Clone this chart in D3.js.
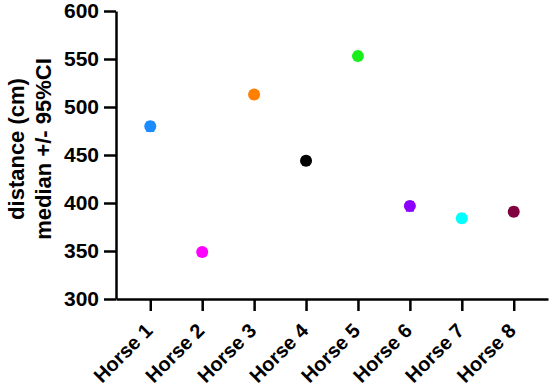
<!DOCTYPE html>
<html>
<head>
<meta charset="utf-8">
<script src="https://cdn.jsdelivr.net/npm/d3@7"></script>
<style>
  body { margin: 0; background: #fff; }
  text { font-family: 'Liberation Sans', Arial, sans-serif; font-weight: 700; fill: #000; }
</style>
</head>
<body>
<div id="chart"></div>
<script>
const horses = ['Horse 1', 'Horse 2', 'Horse 3', 'Horse 4', 'Horse 5', 'Horse 6', 'Horse 7', 'Horse 8'];
const medians = [480, 349, 513, 444, 553, 397, 384, 391];
const ciLow = [475, 345, 509, 440, 549, 392, 380, 387];
const ciHigh = [484, 352, 516, 448, 557, 401, 388, 395];
const colors = ['#1a8cff', '#ff00ff', '#ff8000', '#000000', '#1aee1a', '#8c00ff', '#00ffff', '#800040'];
const yTicks = [300, 350, 400, 450, 500, 550, 600];

const width = 550;
const height = 389;
const margin = { top: 11, right: 2, bottom: 90, left: 116 };

const svg = d3
  .select('#chart')
  .append('svg')
  .attr('width', width)
  .attr('height', height);

const x = d3.scalePoint().domain(horses).range([margin.left, width - margin.right]).padding(0.66);
const y = d3.scaleLinear().domain([300, 600]).range([height - margin.bottom, margin.top]);

// y axis
const yAxis = svg
  .append('g')
  .attr('transform', `translate(${margin.left},0)`)
  .call(d3.axisLeft(y).tickValues(yTicks).tickSize(12).tickSizeOuter(0).tickPadding(5));
yAxis.select('.domain').attr('stroke-width', 2.5);
yAxis.selectAll('.tick line').attr('stroke-width', 2.5);
yAxis.selectAll('.tick text').style('font-size', '21px').style('font-family', null);

// x axis
const xAxis = svg
  .append('g')
  .attr('transform', `translate(0,${y(300)})`)
  .call(d3.axisBottom(x).tickSize(12).tickSizeOuter(0));
xAxis.select('.domain').attr('stroke-width', 2.5);
xAxis.selectAll('.tick line').attr('stroke-width', 2.5);
xAxis
  .selectAll('.tick text')
  .style('font-size', '20px')
  .style('font-family', null)
  .attr('text-anchor', 'end')
  .attr('dy', null)
  .attr('transform', 'translate(3,33) rotate(-45)')
  .attr('y', 0)
  .attr('x', 0);

// error bars
const bars = svg.append('g');
horses.forEach((h, i) => {
  const cx = x(h);
  bars.append('line')
    .attr('x1', cx).attr('x2', cx)
    .attr('y1', y(ciLow[i])).attr('y2', y(ciHigh[i]))
    .attr('stroke', colors[i]).attr('stroke-width', 2);
  [ciLow[i], ciHigh[i]].forEach((v) => {
    bars.append('line')
      .attr('x1', cx - 4).attr('x2', cx + 4)
      .attr('y1', y(v)).attr('y2', y(v))
      .attr('stroke', colors[i]).attr('stroke-width', 2);
  });
});

// points
svg
  .append('g')
  .selectAll('circle')
  .data(horses)
  .enter()
  .append('circle')
  .attr('cx', (d) => x(d))
  .attr('cy', (d, i) => y(medians[i]))
  .attr('r', 6)
  .attr('fill', (d, i) => colors[i]);

// y title
const title = svg
  .append('text')
  .attr('transform', 'translate(24,149) rotate(-90)')
  .attr('text-anchor', 'middle')
  .style('font-size', '22px');
title.append('tspan').attr('x', 0).attr('y', 0).text('distance (cm)');
title.append('tspan').attr('x', 0).attr('y', 27).text('median +/- 95%CI');
</script>
</body>
</html>
